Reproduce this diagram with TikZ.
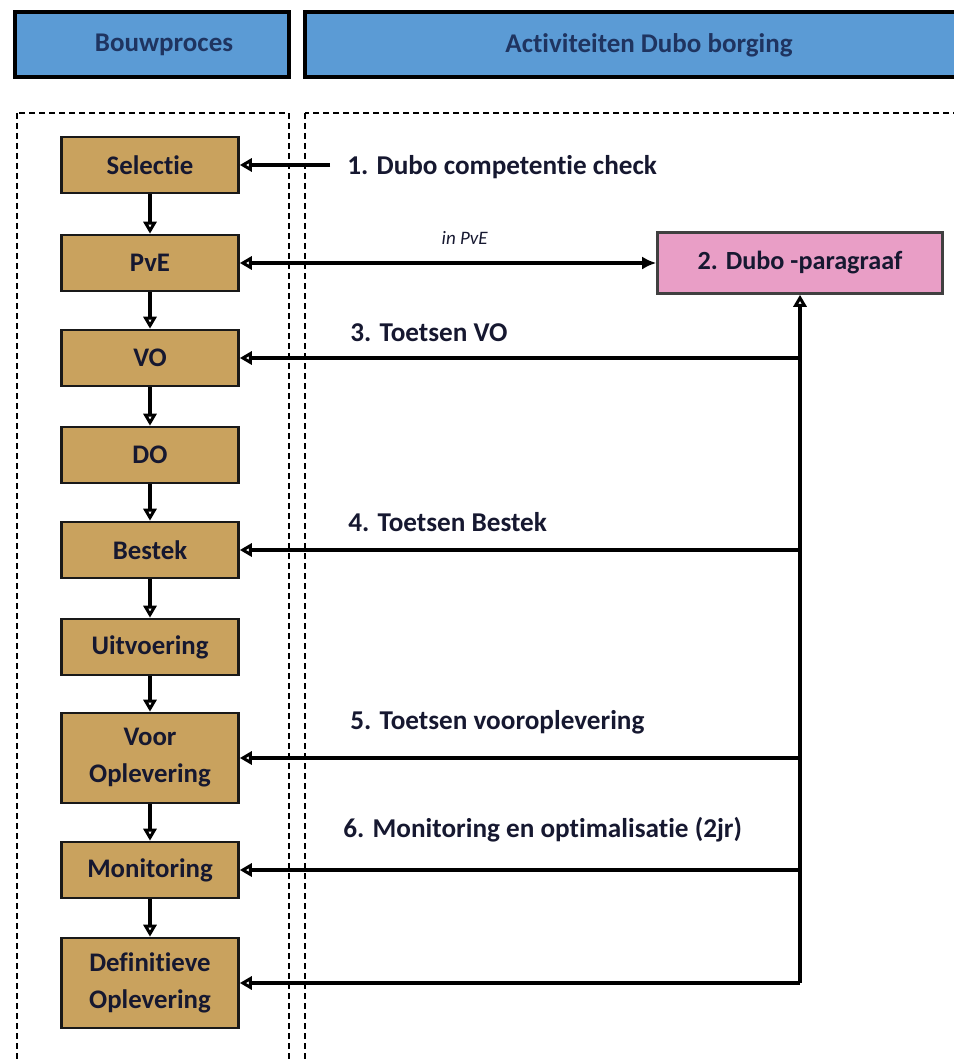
\documentclass[tikz,border=0pt]{standalone}
\usepackage{fontspec}
\setmainfont{Carlito}[Ligatures=NoCommon]
\usetikzlibrary{arrows.meta, positioning}
\definecolor{headblue}{RGB}{91, 155, 213}
\definecolor{headtext}{RGB}{31, 52, 96}
\definecolor{stagetan}{RGB}{201, 162, 94}
\definecolor{dubopink}{RGB}{233, 158, 198}
\definecolor{inktext}{RGB}{22, 24, 48}
\tikzset{
  headbox/.style   = {rectangle, draw=black, line width=2pt, fill=headblue, minimum height=32.5pt, text=headtext, font=\fontsize{13.5}{15}\selectfont\bfseries},
  stage/.style     = {rectangle, draw=black!90, line width=1.3pt, fill=stagetan, minimum width=88.5pt, minimum height=28pt, align=center, text=inktext, font=\fontsize{13.4}{18.5}\selectfont\bfseries},
  stagetall/.style = {stage, minimum height=45pt},
  dubobox/.style   = {rectangle, draw=black!75, line width=1.3pt, fill=dubopink, minimum width=142.5pt, minimum height=30.5pt, text=inktext, font=\fontsize{13.1}{15}\selectfont\bfseries},
  actlabel/.style  = {anchor=west, inner sep=0pt, text=inktext, font=\fontsize{13.6}{15}\selectfont\bfseries},
  lane/.style      = {dash pattern=on 3pt off 2pt, line width=1.4pt},
  down/.style      = {-{Triangle[open, length=6pt, width=6.5pt]}, line width=1.7pt},
  feed/.style      = {-{Triangle[open, length=6pt, width=6.5pt]}, line width=1.7pt},
  pvelink/.style   = {{Triangle[open, length=6pt, width=6.5pt]}-{Latex[length=7pt, width=6.5pt]}, line width=1.7pt},
}

\begin{document}
\begin{tikzpicture}[x=0.5pt, y=-0.5pt]
  % same frame as the reference
  \useasboundingbox (0,0) rectangle (953,1059);

  % columns
  \draw[lane] (17,113) rectangle (289,1080);
  \draw[lane] (305,113) rectangle (975,1080);

  % headers
  \node[headbox, minimum width=137pt] (bouw) at (152,45) {\hspace{12pt}Bouwproces};
  \node[headbox, minimum width=344pt] (activ) at (649,45) {Activiteiten Dubo borging};

  % bouwproces stages
  \node[stage] (selectie) at (150,165) {Selectie};
  \node[stage] (pve) at (150,263) {PvE};
  \node[stage] (vo) at (150,358) {VO};
  \node[stage] (do) at (150,455) {DO};
  \node[stage] (bestek) at (150,550) {Bestek};
  \node[stage] (uitv) at (150,647) {Uitvoering};
  \node[stagetall] (voor) at (150,758) {Voor\\Oplevering};
  \node[stage] (monit) at (150,870) {Monitoring};
  \node[stagetall] (defin) at (150,983) {Definitieve\\Oplevering};

  \draw[down] (selectie) -- (pve);
  \draw[down] (pve) -- (vo);
  \draw[down] (vo) -- (do);
  \draw[down] (do) -- (bestek);
  \draw[down] (bestek) -- (uitv);
  \draw[down] (uitv) -- (voor);
  \draw[down] (voor) -- (monit);
  \draw[down] (monit) -- (defin);

  % dubo activiteiten
  \node[dubobox] (dubo) at (800,263) {2. Dubo -paragraaf};
  \coordinate (check) at (330,165);
  \coordinate (bus) at (800,983);

  \node[actlabel] (l1) at (347,167) {1. Dubo competentie check};
  \node[actlabel] (l3) at (350,333) {3. Toetsen VO};
  \node[actlabel] (l4) at (348,522) {4. Toetsen Bestek};
  \node[actlabel] (l5) at (350,722) {5. Toetsen vooroplevering};
  \node[actlabel] (l6) at (343,830) {6. Monitoring en optimalisatie (2jr)};

  \draw[feed] (check) -- (selectie);
  \draw[pvelink] (pve) -- node[pos=0.54, above=5pt, text=inktext, font=\fontsize{9.5}{11}\selectfont\itshape] {in PvE} (dubo);
  \draw[feed] (bus) -- (dubo);
  \draw[feed] (bus |- vo) -- (vo);
  \draw[feed] (bus |- bestek) -- (bestek);
  \draw[feed] (bus |- voor) -- (voor);
  \draw[feed] (bus |- monit) -- (monit);
  \draw[feed] (bus) -- (defin);

\end{tikzpicture}
\end{document}
